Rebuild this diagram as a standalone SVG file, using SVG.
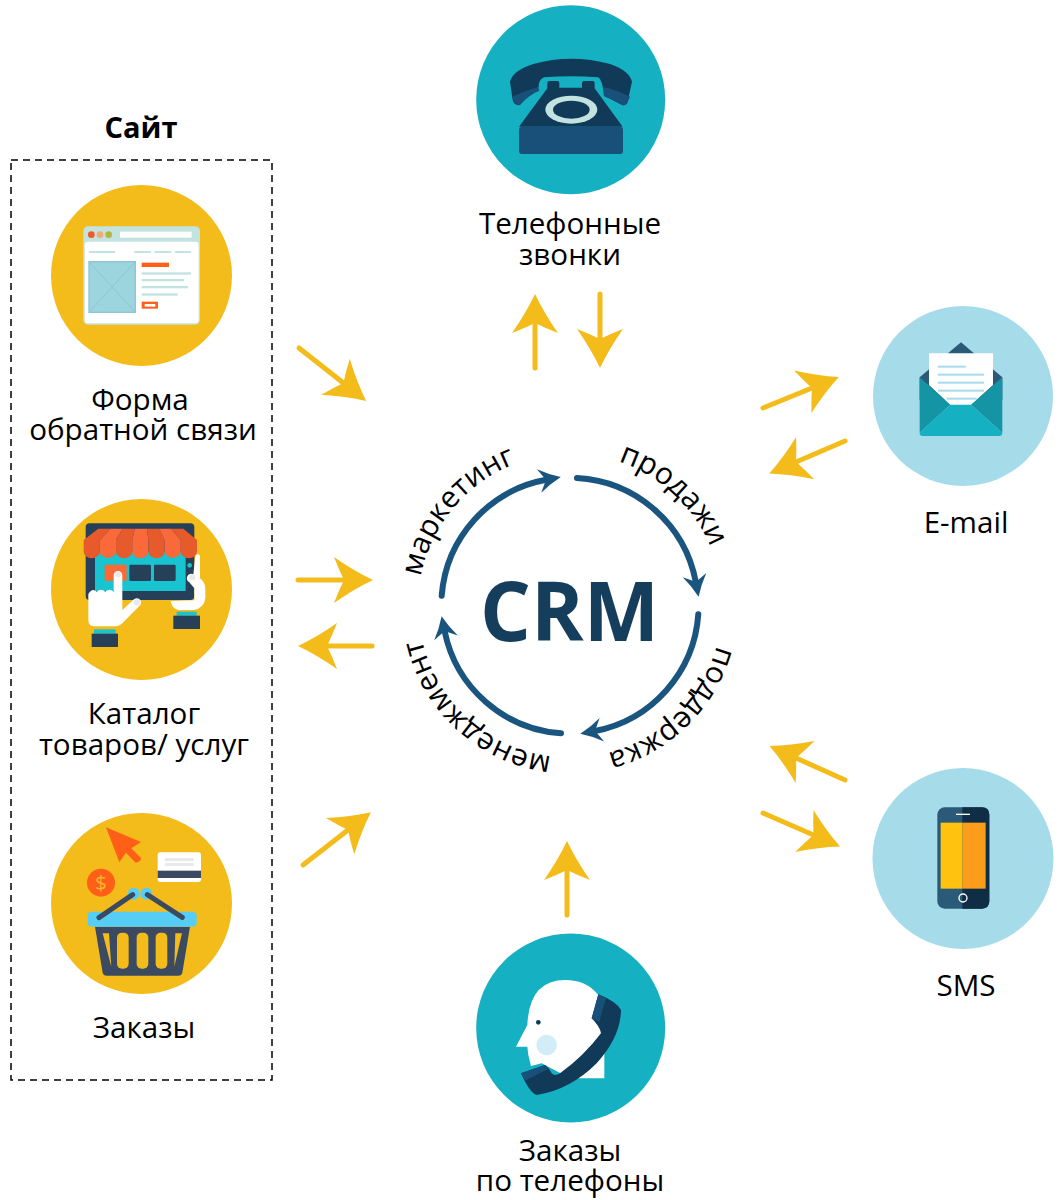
<svg xmlns="http://www.w3.org/2000/svg" width="1061" height="1200" viewBox="0 0 1061 1200">
<style>
text{font-family:"Open Sans","Noto Sans","Liberation Sans",sans-serif;fill:#000}
.lb{font-size:29.600px;text-anchor:middle}
.ring{font-size:30px;text-anchor:middle}
.ln{stroke:#f3bc1b;stroke-width:5;stroke-linecap:round;fill:none;marker-end:url(#ya)}
.rg{stroke:#1a5580;stroke-width:6;stroke-linecap:round;fill:none;marker-end:url(#ba)}
.y{fill:#f3bc1b}.t{fill:#15b0c2}.l{fill:#a6dbea}
.sl{fill:#c2e3e0}.dk{fill:#264059}.cy{fill:#17c4cf}.nv{fill:#113a58}.bl{fill:#195079}.gr{fill:#e9e9e9}
.bk{fill:#3b4a61}.sk{fill:#55cdf5}.or{fill:#ff5f17}.aw1{fill:#e65a2c}.aw2{fill:#f9693a}.pl{fill:#a6dbea}
</style>
<defs>
<marker id="ya" markerUnits="userSpaceOnUse" markerWidth="44" markerHeight="50" viewBox="-12 -25 44 50" refX="0" refY="0" orient="auto"><path d="M29 0Q10 -9 -10 -23Q-5 -10 0 0Q-5 10 -10 23Q10 9 29 0Z" fill="#f3bc1b"/></marker>
<marker id="ba" markerUnits="userSpaceOnUse" markerWidth="30" markerHeight="30" viewBox="-10 -15 30 30" refX="0" refY="0" orient="auto"><path d="M15 0Q3 -5 -7 -12Q-3 -5 0 0Q-3 5 -7 12Q3 5 15 0Z" fill="#1a5580"/></marker>
<path id="rm" d="M419.100 587A152 152 0 0 1 551.500 454.600" fill="none"/>
<path id="rp" d="M588.500 454.600A152 152 0 0 1 720.900 587" fill="none"/>
<path id="rs" d="M720.900 624A152 152 0 0 1 588.500 756.400" fill="none"/>
<path id="rn" d="M551.500 756.400A152 152 0 0 1 419.100 624" fill="none"/>
</defs>
<rect id="site-box" x="11" y="160" width="261" height="920" fill="none" stroke="#000" stroke-width="1.500" stroke-dasharray="7 5"/>
<text x="141" y="138" font-size="29" font-weight="700" text-anchor="middle">Сайт</text>
<g id="connectors">
<path class="ln" d="M299 348L343.400 383"/>
<path class="ln" d="M298 580H344"/>
<path class="ln" d="M372 646H327"/>
<path class="ln" d="M303 865L348 830"/>
<path class="ln" d="M535 368V323"/>
<path class="ln" d="M600 294V339"/>
<path class="ln" d="M763 408L812 388"/>
<path class="ln" d="M845 441L796 462"/>
<path class="ln" d="M845 780L796 758"/>
<path class="ln" d="M763 813L813.500 835"/>
<path class="ln" d="M567 915V870"/>
</g>
<g id="crm">
<path class="rg" d="M577 478A128 128 0 0 1 695.800 582"/>
<path class="rg" d="M698.300 614.300A128 128 0 0 1 595 731"/>
<path class="rg" d="M561 733.300A128 128 0 0 1 444.600 631"/>
<path class="rg" d="M441.700 595.700A128 128 0 0 1 546 479.800"/>
<text x="569.500" y="640.700" font-size="83" font-weight="700" text-anchor="middle" textLength="179" lengthAdjust="spacingAndGlyphs" style="fill:#153e5c">CRM</text>
<text class="ring" transform="rotate(-5 570 605.500)"><textPath href="#rm" startOffset="50%">маркетинг</textPath></text>
<text class="ring" transform="rotate(-2 570 605.500)"><textPath href="#rp" startOffset="50%">продажи</textPath></text>
<text class="ring" transform="rotate(.5 570 605.500)"><textPath href="#rs" startOffset="50%">поддержка</textPath></text>
<text class="ring" transform="rotate(-3 570 605.500)"><textPath href="#rn" startOffset="50%">менеджмент</textPath></text>
</g>
<g id="node-form">
<circle class="y" cx="141.500" cy="275.500" r="90.500"/>
<g transform="translate(40 180) scale(.3333)">
<rect class="sl" x="130" y="139" width="350" height="295" rx="14"/>
<rect x="134" y="185" width="342" height="245" rx="10" fill="#fff"/>
<circle cx="154" cy="164" r="10" fill="#f15a24"/><circle cx="180" cy="164" r="10" fill="#f2aa78"/><circle cx="206" cy="164" r="10" fill="#b3b640"/>
<rect x="240" y="155" width="215" height="18" fill="#fff"/>
<g class="sl"><rect x="147" y="213" width="78" height="6"/><rect x="283" y="213" width="50" height="6"/><rect x="344" y="213" width="50" height="6"/><rect x="405" y="213" width="48" height="6"/>
<rect x="305" y="277" width="148" height="7"/><rect x="305" y="297" width="127" height="7"/><rect x="305" y="318" width="139" height="7"/><rect x="305" y="340" width="108" height="7"/></g>
<rect x="147" y="245" width="139" height="152" fill="#9cd5dd" stroke="#8fc3d8" stroke-width="4"/>
<path d="M147 245L286 397M286 245L147 397" stroke="#8fc3d8" stroke-width="3" fill="none"/>
<rect class="or" x="305" y="248" width="82" height="13"/>
<rect class="or" x="305" y="365" width="49" height="21"/><rect x="314" y="372" width="32" height="8" fill="#fff"/>
</g>
<text class="lb" x="140" y="410">Форма</text>
<text class="lb" x="143" y="440">обратной связи</text>
</g>
<g id="node-catalog">
<circle class="y" cx="141.500" cy="589.500" r="90.500"/>
<g transform="translate(40 495) scale(.3333)">
<rect class="dk" x="137" y="85" width="326" height="230" rx="12"/>
<rect class="cy" x="165" y="170" width="272" height="118"/>
<rect x="194" y="209" width="66" height="49" rx="4" fill="#f96a36"/>
<rect class="dk" x="268" y="209" width="65" height="49" rx="4"/><rect class="dk" x="342" y="209" width="65" height="49" rx="4"/>
<circle class="cy" cx="449" cy="211" r="7"/>
<path class="aw1" d="M175 101H211.400L179.600 135V170A24.300 20 0 0 1 131 170V135Z"/>
<path class="aw2" d="M211.400 101H247.900L228.100 135V170A24.300 20 0 0 1 179.600 170V135Z"/>
<path class="aw1" d="M247.900 101H284.300L276.700 135V170A24.300 20 0 0 1 228.100 170V135Z"/>
<path class="aw2" d="M284.300 101H320.700L325.300 135V170A24.300 20 0 0 1 276.700 170V135Z"/>
<path class="aw1" d="M320.700 101H357.100L373.900 135V170A24.300 20 0 0 1 325.300 170V135Z"/>
<path class="aw2" d="M357.100 101H393.600L422.400 135V170A24.300 20 0 0 1 373.900 170V135Z"/>
<path class="aw1" d="M393.600 101H430L471 135V170A24.300 20 0 0 1 422.400 170V135Z"/>
<path fill="#fff" d="M145 297Q157 278 170 290Q183 278 196 290Q208 278 221 290V241A13 13 0 0 1 247 241V345L283 312A13 13 0 0 1 301 330L250 382Q240 394 225 394H165Q145 394 145 374Z"/>
<circle class="gr" cx="234" cy="238" r="9"/><circle class="gr" cx="291" cy="322" r="10"/>
<rect class="cy" x="162" y="403" width="65" height="13"/><rect class="dk" x="155" y="416" width="79" height="40"/>
<path fill="#fff" d="M466 185A7 7 0 0 1 480 185V250Q497 262 496 285V310Q492 340 462 345H415Q395 340 392 318L463 316V280L448 262A12 12 0 0 1 460 238Z"/>
<circle class="gr" cx="457" cy="247" r="9"/>
<rect class="cy" x="410" y="350" width="60" height="12"/><rect class="dk" x="400" y="362" width="80" height="40"/>
</g>
<text class="lb" x="144" y="724">Каталог</text>
<text class="lb" x="144" y="755">товаров/ услуг</text>
</g>
<g id="node-orders">
<circle class="y" cx="141.500" cy="903.500" r="90.500"/>
<g transform="translate(40 810) scale(.3333)">
<path class="or" d="M198 52L303 96L274 115L302 143Q305 148 300 152L293 157Q288 159 284 155L258 128L238 157Z"/>
<rect x="353" y="127" width="130" height="89" rx="8" fill="#fff"/><rect class="bk" x="353" y="182" width="130" height="22"/>
<rect class="gr" x="374" y="144" width="88" height="10" rx="5"/><rect class="gr" x="374" y="159" width="88" height="9" rx="4.500"/>
<circle class="or" cx="183" cy="218" r="42"/>
<text x="183" y="240" font-size="62" text-anchor="middle" style="fill:#f7b733">$</text>
<circle class="sk" cx="281" cy="251" r="18"/><circle class="sk" cx="319" cy="251" r="18"/>
<path class="bk" d="M165 350H450L427 488Q425 497 415 497H200Q190 497 188 488Z"/>
<rect class="sk" x="143" y="305" width="327" height="45" rx="12"/>
<path d="M177 323L278 254M322 254L427 322" stroke="#3b4a61" stroke-width="15" stroke-linecap="round" fill="none"/>
<g class="y"><rect x="231" y="368" width="35" height="108" rx="15"/><rect x="290" y="368" width="35" height="108" rx="15"/><rect x="347" y="368" width="35" height="108" rx="15"/>
<path d="M188 370H207L214 470Z"/><path d="M426 370H406L403 470Z"/></g>
</g>
<text class="lb" x="144" y="1038">Заказы</text>
</g>
<g id="node-calls">
<circle class="t" cx="570.700" cy="99.700" r="94.500"/>
<g transform="translate(470 0) scale(.3333)">
<path class="nv" d="M120 245Q128 212 190 192Q303 160 420 192Q478 212 486 245L472 308Q465 320 452 313Q420 295 402 288Q398 240 385 232Q303 225 222 232Q205 240 206 262Q170 275 150 315Q133 318 128 300Z"/>
<path class="bl" d="M127 290Q170 270 206 262Q206 268 208 272Q175 285 150 315Q135 318 127 290ZM480 290Q440 270 402 262Q402 275 402 288Q425 298 452 313Q465 320 472 308Z"/>
<path class="nv" d="M232 265V250Q232 243 238 243H262Q268 243 268 250V263H336V250Q336 243 342 243H368Q374 243 374 250V265L458 380H147Z"/>
<rect class="bl" x="147" y="380" width="312" height="82" rx="10"/>
<ellipse cx="304" cy="329" rx="78" ry="42" fill="#c2e3e0"/><ellipse class="nv" cx="304" cy="329" rx="55" ry="27"/>
</g>
<text class="lb" x="570" y="234">Телефонные</text>
<text class="lb" x="570" y="265">звонки</text>
</g>
<g id="node-phone-orders">
<circle class="t" cx="570.700" cy="1028" r="94.500"/>
<g transform="translate(470 930) scale(.3333)">
<path fill="#fff" d="M285 150Q350 150 385 195L403 360V445H300L215 400L183 408L175 375L172 350H138L172 285Q178 150 285 150Z"/>
<circle class="nv" cx="205" cy="277" r="7"/><circle cx="230" cy="345" r="31" fill="#d2edf7"/>
<path class="nv" d="M385 193Q440 215 453 240Q452 320 380 400Q300 480 200 495Q180 490 153 430L225 405Q235 410 245 430Q255 440 270 430Q340 380 393 310Q390 290 365 265Z"/>
<path class="bl" d="M385 193L408 205L388 275Q375 270 365 265ZM153 430L225 405L235 416L165 452Z"/>
</g>
<text class="lb" x="570" y="1161">Заказы</text>
<text class="lb" x="570" y="1191">по телефоны</text>
</g>
<g id="node-email">
<circle class="l" cx="963" cy="396" r="90"/>
<g transform="translate(865 300) scale(.3333)">
<path d="M164 232L288 127L412 232V300H164Z" fill="#2b5a78"/>
<path fill="#fff" d="M192 160H384V255L318 315H256L192 255Z"/>
<g class="pl"><rect x="219" y="197" width="83" height="6"/><rect x="219" y="221" width="138" height="6"/><rect x="219" y="245" width="138" height="6"/><rect x="219" y="269" width="138" height="6"/><rect x="245" y="293" width="90" height="6"/></g>
<path fill="#1594a6" d="M164 232L256 314L164 398ZM412 232L318 314L412 398Z"/>
<path class="t" d="M164 398L256 314H318L412 398Q412 408 402 408H174Q164 408 164 398Z"/>
</g>
<text class="lb" x="966" y="533">E-mail</text>
</g>
<g id="node-sms">
<circle class="l" cx="963" cy="858.500" r="90.500"/>
<g transform="translate(865 760) scale(.3333)">
<rect x="217" y="142" width="156" height="304" rx="22" fill="#2b5a78"/>
<path fill="#0f2e45" d="M292 142H351Q373 142 373 164V424Q373 446 351 446H292Z"/>
<rect x="227" y="188" width="66" height="198" fill="#ffc20e"/><rect x="293" y="188" width="69" height="198" fill="#fb9d1b"/>
<rect x="273" y="161" width="42" height="4" fill="#fff"/>
<circle cx="294" cy="414" r="12" fill="none" stroke="#fff" stroke-width="4"/>
</g>
<text class="lb" x="966" y="996">SMS</text>
</g>
</svg>
